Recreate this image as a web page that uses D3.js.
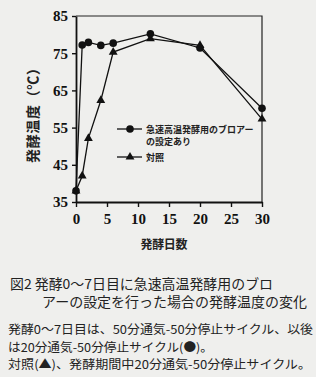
<!DOCTYPE html>
<html>
<head>
<meta charset="utf-8">
<script src="https://cdn.jsdelivr.net/npm/d3@7"></script>
<style>
  body { margin: 0; background: #efefed; }
  svg { display: block; }
</style>
</head>
<body>
<div id="chart-container"></div>
<script>
// days and temperatures (°C)
let days = [0, 1, 2, 4, 6, 12, 20, 30];
let blower = [38, 77.2, 77.9, 77.1, 77.7, 80.2, 76.4, 60.2];
let control = [38, 42, 52.1, 62.3, 75.3, 78.9, 77.1, 57.3];

let xTicks = [0, 5, 10, 15, 20, 25, 30];
let yTicks = [35, 45, 55, 65, 75, 85];

let legendLabels = [["急速高温発酵用のブロアー", "の設定あり"], ["対照"]];
let yTitle = "発酵温度（℃）";
let xTitle = "発酵日数";
let captionLines = ["図2 発酵0～7日目に急速高温発酵用のブロ", "アーの設定を行った場合の発酵温度の変化"];
let noteLines = [
  "発酵0～7日目は、50分通気-50分停止サイクル、以後",
  "は20分通気-50分停止サイクル(●)。",
  "対照(▲)、発酵期間中20分通気-50分停止サイクル。"
];

let width = 316,
    height = 377;

let svg = d3.select("#chart-container")
            .append("svg")
            .attr("width", width)
            .attr("height", height);

svg.append("rect")
   .attr("width", width)
   .attr("height", height)
   .attr("fill", "#efefed");

let xScale = d3.scaleLinear().domain([0, 30]).range([76, 262]);
let yScale = d3.scaleLinear().domain([35, 85]).range([202, 16]);

let serif = "'Liberation Serif', 'DejaVu Serif', serif";
let gothic = "'Noto Sans CJK JP', 'Noto Sans', sans-serif";

// ----- FRAME (top and right) -----
svg.append("path")
   .attr("d", `M${xScale(0)},${yScale(85)}H${xScale(30)}V${yScale(35)}`)
   .attr("fill", "none")
   .attr("stroke", "#222")
   .attr("stroke-width", 1.2);

// ----- AXES -----
let xAxis = svg.append("g")
   .attr("transform", `translate(0,${yScale(35)})`)
   .call(d3.axisBottom(xScale).tickValues(xTicks).tickSize(5).tickPadding(6).tickSizeOuter(0));

let yAxis = svg.append("g")
   .attr("transform", `translate(${xScale(0)},0)`)
   .call(d3.axisLeft(yScale).tickValues(yTicks).tickSize(4).tickPadding(4).tickSizeOuter(0));

[xAxis, yAxis].forEach(ax => {
  ax.select(".domain").attr("stroke", "#111").attr("stroke-width", 1.8);
  ax.selectAll(".tick line").attr("stroke", "#111").attr("stroke-width", 1.4);
  ax.selectAll(".tick text")
    .attr("fill", "#111")
    .style("font-family", serif)
    .style("font-weight", "bold")
    .style("font-size", "15px");
});

// ----- AXIS TITLES -----
svg.append("text")
   .attr("transform", `translate(38,112) rotate(-90)`)
   .attr("text-anchor", "middle")
   .attr("textLength", 102)
   .style("font-family", gothic)
   .style("font-weight", "bold")
   .style("font-size", "14px")
   .attr("fill", "#222")
   .text(yTitle);

svg.append("text")
   .attr("x", 164)
   .attr("y", 249)
   .attr("text-anchor", "middle")
   .attr("textLength", 47)
   .style("font-family", gothic)
   .style("font-weight", "bold")
   .style("font-size", "12px")
   .attr("fill", "#222")
   .text(xTitle);

// ----- LINES -----
let line = d3.line()
    .x((d, i) => xScale(days[i]))
    .y(d => yScale(d));

[control, blower].forEach(s => {
  svg.append("path")
     .datum(s)
     .attr("d", line)
     .attr("fill", "none")
     .attr("stroke", "#111")
     .attr("stroke-width", 1.3);
});

let tri = d3.symbol().type(d3.symbolTriangle).size(34);

svg.append("g").selectAll("path")
   .data(control)
   .join("path")
   .attr("d", tri)
   .attr("transform", (d, i) => `translate(${xScale(days[i])},${yScale(d)})`)
   .attr("fill", "#111");

svg.append("g").selectAll("circle")
   .data(blower)
   .join("circle")
   .attr("cx", (d, i) => xScale(days[i]))
   .attr("cy", d => yScale(d))
   .attr("r", 3.8)
   .attr("fill", "#111");

// ----- LEGEND -----
let legendY = [129, 157];
legendY.forEach((ly, k) => {
  svg.append("line")
     .attr("x1", 117).attr("x2", 142)
     .attr("y1", ly).attr("y2", ly)
     .attr("stroke", "#111")
     .attr("stroke-width", 1.3);
  if (k === 0) {
    svg.append("circle").attr("cx", 130).attr("cy", ly).attr("r", 3.8).attr("fill", "#111");
  } else {
    svg.append("path").attr("d", tri).attr("transform", `translate(130,${ly})`).attr("fill", "#111");
  }
  legendLabels[k].forEach((t, j) => {
    svg.append("text")
       .attr("x", 146)
       .attr("y", ly + 3.5 + j * 12.5)
       .style("font-family", gothic)
       .style("font-weight", "bold")
       .style("font-size", "9px")
       .attr("fill", "#222")
       .text(t);
  });
});

// ----- CAPTION -----
let cap = [
  { x: 10, y: 289, len: 263, t: captionLines[0] },
  { x: 42, y: 307, len: 265, t: captionLines[1] }
];
cap.forEach(c => {
  svg.append("text")
     .attr("x", c.x)
     .attr("y", c.y)
     .attr("textLength", c.len)
     .attr("lengthAdjust", "spacingAndGlyphs")
     .style("font-family", gothic)
     .style("font-size", "13.5px")
     .attr("fill", "#222")
     .text(c.t);
});

let noteLen = [305, 205, 303];
noteLines.forEach((t, i) => {
  svg.append("text")
     .attr("x", 8)
     .attr("y", 334 + i * 17.5)
     .attr("textLength", noteLen[i])
     .attr("lengthAdjust", "spacingAndGlyphs")
     .style("font-family", gothic)
     .style("font-size", "12px")
     .attr("fill", "#222")
     .text(t);
});
</script>
</body>
</html>
